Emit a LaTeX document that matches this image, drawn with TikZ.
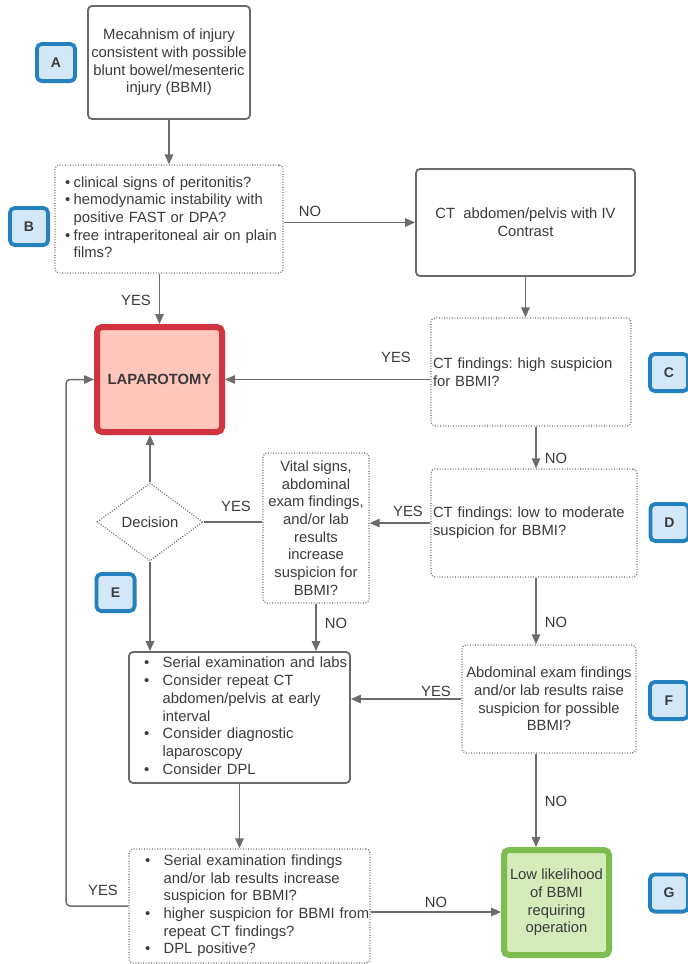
\documentclass[tikz,border=0pt]{standalone}
\usepackage{fontspec}
\setmainfont{Liberation Sans}
\usetikzlibrary{shapes.geometric,arrows.meta}
\setlength\parindent{0pt}
\frenchspacing
\definecolor{ink}{HTML}{3A3A3A}
\definecolor{wire}{HTML}{6C6C6C}
\definecolor{frame}{HTML}{6A6A6A}
\definecolor{tagfill}{HTML}{D2E7F7}
\definecolor{tagline}{HTML}{2480BE}
\definecolor{lapfill}{HTML}{FFC6BC}
\definecolor{lapline}{HTML}{D1343F}
\definecolor{okfill}{HTML}{D5EBBA}
\definecolor{okline}{HTML}{7DBD50}
\newcommand\bul{\textbullet}
\begin{document}
\begin{tikzpicture}[x=1pt,y=-1pt,
  every node/.style={font=\fontsize{14.8}{17.7}\selectfont, text=ink},
  solidbox/.style={draw=frame, line width=1.8pt, rounded corners=4pt, inner sep=0pt},
  dotbox/.style={draw=frame, line width=1.3pt, dash pattern=on 0.9pt off 1.7pt, rounded corners=4pt, inner sep=0pt},
  tag/.style={draw=tagline, fill=tagfill, line width=3.8pt, rounded corners=5pt,
    minimum width=38.2pt, minimum height=37.2pt, inner sep=0pt,
    font=\bfseries\fontsize{14}{16}\selectfont},
  lbl/.style={inner sep=0pt},
  arrow/.style={draw=wire, line width=1.5pt, -{Triangle[length=10pt,width=8.5pt]}},
  link/.style={draw=wire, line width=1.5pt}
]
\useasboundingbox (0,0) rectangle (688,964);

% step boxes
\node[solidbox, minimum width=162pt, minimum height=113pt, align=center] (A) at (169,62.5)
  {Mecahnism of injury\\consistent with possible\\blunt bowel/mesenteric\\injury (BBMI)};

\node[dotbox, minimum width=228pt, minimum height=108pt, text width=228pt, align=left] (B) at (169,219)
  {\raisebox{7pt}{\begin{tabular}{@{\hspace{10pt}}l@{\hspace{3.5pt}}l@{}}
  \bul & clinical signs of peritonitis?\\
  \bul & hemodynamic instability with\\
       & positive FAST or DPA?\\
  \bul & free intraperitoneal air on plain\\
       & films?
  \end{tabular}}};

\node[solidbox, minimum width=219pt, minimum height=107pt, align=center] (CT) at (525.5,222.5)
  {CT\ \ abdomen/pelvis with IV\\Contrast};

\node[dotbox, minimum width=200pt, minimum height=108pt, inner xsep=2pt, text width=196pt, align=left] (C) at (531,372)
  {CT findings: high suspicion\\for BBMI?};

\node[draw=lapline, fill=lapfill, line width=6pt, rounded corners=5pt, minimum width=125pt, minimum height=105pt,
  inner sep=0pt, font=\bfseries\fontsize{14.8}{17.7}\selectfont] (LAP) at (159.5,379.5) {LAPAROTOMY};

\node[dotbox, minimum width=206pt, minimum height=108pt, inner xsep=2pt, text width=202pt, align=left] (D) at (534,523)
  {CT findings: low to moderate\\suspicion for BBMI?};

\node[dotbox, minimum width=106pt, minimum height=150pt, align=center] (V) at (316,528)
  {Vital signs,\\abdominal\\exam findings,\\and/or lab\\results\\increase\\suspicion for\\BBMI?};

\node[dotbox, diamond, rounded corners=0pt, minimum width=106pt, minimum height=78pt] (Dec) at (150,522) {Decision};

\node[solidbox, minimum width=221pt, minimum height=131pt, text width=221pt, align=left] (S) at (239.5,717.5)
  {\begin{tabular}{@{\hspace{15pt}}l@{\hspace{13.5pt}}l@{}}
  \bul & Serial examination and labs\\
  \bul & Consider repeat CT\\
       & abdomen/pelvis at early\\
       & interval\\
  \bul & Consider diagnostic\\
       & laparoscopy\\
  \bul & Consider DPL
  \end{tabular}};

\node[dotbox, minimum width=174pt, minimum height=108pt, align=center] (F) at (549,699)
  {Abdominal exam findings\\and/or lab results raise\\suspicion for possible\\BBMI?};

\node[dotbox, minimum width=241pt, minimum height=114pt, text width=241pt, align=left] (Bot) at (249.5,906)
  {\begin{tabular}{@{\hspace{16pt}}l@{\hspace{13.5pt}}l@{}}
  \bul & Serial examination findings\\
       & and/or lab results increase\\
       & suspicion for BBMI?\\
  \bul & higher suspicion for BBMI from\\
       & repeat CT findings?\\
  \bul & DPL positive?
  \end{tabular}};

\node[draw=okline, fill=okfill, line width=6pt, rounded corners=5pt, minimum width=105pt, minimum height=105pt,
  inner sep=0pt, align=center] (G) at (556.5,902.5)
  {Low likelihood\\of BBMI\\requiring\\operation};

% letter tags
\node[tag] (tagA) at (56,62.5) {A};
\node[tag] (tagB) at (29,226.5) {B};
\node[tag] (tagC) at (669,372.5) {C};
\node[tag] (tagD) at (669.5,522.5) {D};
\node[tag] (tagE) at (115.5,592.5) {E};
\node[tag] (tagF) at (669,700.5) {F};
\node[tag] (tagG) at (669,893) {G};

% vertical spine on the right-hand side
\coordinate (spine) at (536,0);

% connectors
\draw[arrow] (A.south) -- (B.north);
\draw[arrow] (B.east |- CT.west) -- (CT.west);
\draw[arrow] (B.south -| LAP.north) -- (LAP.north);
\draw[arrow] (CT.south) -- (CT.south |- C.north);
\draw[arrow] (C.west |- LAP.east) -- (LAP.east);
\draw[arrow] (spine |- C.south) -- (spine |- D.north);
\draw[arrow] (D.west) -- (D.west -| V.east);
\draw[link]  (V.west |- Dec.east) -- (Dec.east);
\draw[arrow] (Dec.north) -- (Dec.north |- LAP.south);
\draw[arrow] (Dec.south) -- (Dec.south |- S.north);
\draw[arrow] (V.south) -- (V.south |- S.north);
\draw[arrow] (spine |- D.south) -- (spine |- F.north);
\draw[arrow] (F.west) -- (F.west -| S.east);
\draw[arrow] (spine |- F.south) -- (spine |- G.north);
\draw[arrow] (S.south) -- (S.south |- Bot.north);
\draw[arrow, rounded corners=4pt] (Bot.west) -| ([xshift=-28pt]LAP.west) -- (LAP.west);
\draw[arrow] ([yshift=-6pt]Bot.east) -- ([yshift=-6pt]Bot.east -| G.west);

% connector labels
\node[lbl] (noB)   at (310,211) {NO};
\node[lbl] (yesB)  at (136,300) {YES};
\node[lbl] (yesC)  at (396,357) {YES};
\node[lbl] (noC)   at (556,458) {NO};
\node[lbl] (yesD)  at (408,511) {YES};
\node[lbl] (yesV)  at (236,506) {YES};
\node[lbl] (noV)   at (336,623) {NO};
\node[lbl] (noD)   at (556,622) {NO};
\node[lbl] (yesF)  at (436,691) {YES};
\node[lbl] (noF)   at (556,801) {NO};
\node[lbl] (yesBot) at (103,890) {YES};
\node[lbl] (noBot) at (436,902) {NO};
\end{tikzpicture}
\end{document}
